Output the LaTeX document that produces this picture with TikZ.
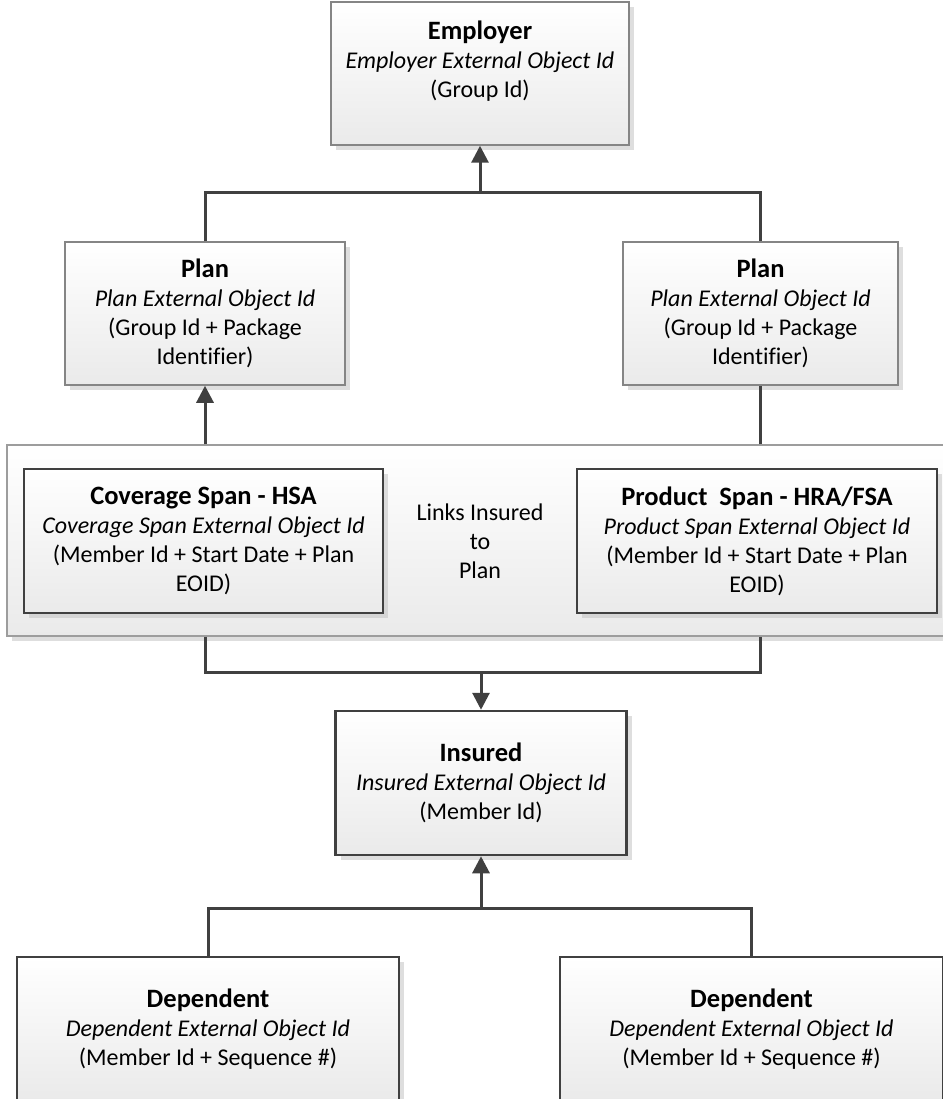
\documentclass[tikz,border=0pt]{standalone}
\usepackage{fontspec}
\setmainfont[Ligatures=NoCommon]{Carlito}
\usetikzlibrary{arrows.meta,shadows}
\definecolor{boxline}{HTML}{858585}
\definecolor{darkline}{HTML}{404040}
\definecolor{shadebot}{HTML}{EAEAEA}
\newcommand{\boxtitle}[1]{{\fontsize{26.5}{29}\selectfont\bfseries #1}}
\begin{document}
\begin{tikzpicture}[x=1pt,y=-1pt]
        \tikzset{entity/.style = {shape=rectangle,draw=boxline,line width=1.5pt,top color=white,bottom color=shadebot,align=center,inner sep=0pt,minimum height=143pt,font=\fontsize{24}{29}\selectfont,drop shadow={shadow xshift=5pt,shadow yshift=-5pt,fill=black!25,opacity=0.5}}}
        \tikzset{record/.style = {entity,draw=darkline,line width=2.5pt}}
        \tikzset{link/.style = {draw=darkline,line width=3pt}}
        \tikzset{arrow/.style = {link,-{Triangle[width=17pt,length=17pt]}}}
        \fill[white] (0,0) rectangle (942,1099);
        \useasboundingbox (0,0) rectangle (942,1099);
        % employer and plans
        \node[entity,minimum width=298pt,text depth=28pt] (employer) at (480,73.5) {\boxtitle{Employer}\\\textit{Employer External Object Id}\\(Group Id)};
        \node[entity,minimum width=280pt] (planL) at (205,313.5) {\boxtitle{Plan}\\\textit{Plan External Object Id}\\(Group Id + Package\\Identifier)};
        \node[entity,minimum width=275pt] (planR) at (760.5,313.5) {\boxtitle{Plan}\\\textit{Plan External Object Id}\\(Group Id + Package\\Identifier)};
        % spans inside the band
        \node[entity,draw=boxline!80,minimum width=943pt,minimum height=191pt] (spans) at (478.5,540.5) {};
        \node[record,minimum width=359pt,minimum height=144pt] (coverage) at (203.5,541) {\boxtitle{Coverage Span - HSA}\\\textit{Coverage Span External Object Id}\\(Member Id + Start Date + Plan\\EOID)};
        \node[record,minimum width=360pt,minimum height=144pt] (product) at (757,541) {\boxtitle{Product\ \ Span - HRA/FSA}\\\textit{Product Span External Object Id}\\(Member Id + Start Date + Plan\\EOID)};
        \node[align=center,font=\fontsize{24}{29}\selectfont] (note) at (480,541) {Links Insured\\to\\Plan};
        % insured and dependents
        \node[record,minimum width=291pt,minimum height=144pt] (insured) at (481,783) {\boxtitle{Insured}\\\textit{Insured External Object Id}\\(Member Id)};
        \node[record,minimum width=382pt,minimum height=144pt] (depL) at (208,1029) {\boxtitle{Dependent}\\\textit{Dependent External Object Id}\\(Member Id + Sequence \#)};
        \node[record,minimum width=383pt,minimum height=144pt] (depR) at (751.5,1029) {\boxtitle{Dependent}\\\textit{Dependent External Object Id}\\(Member Id + Sequence \#)};
        \coordinate (topjoin) at (480,193);
        \coordinate (midjoin) at (481,672);
        \coordinate (lowjoin) at (481,908);
        % plans up to employer
        \draw[link] (planL.north) |- (topjoin) -| (planR.north);
        \draw[arrow] (topjoin) -- (employer.south);
        % band up to plans
        \draw[arrow] (planL.south |- spans.north) -- (planL.south);
        \draw[link] (planR.south |- spans.north) -- (planR.south);
        % band down to insured
        \draw[link] (planL.south |- spans.south) |- (midjoin) -| (planR.south |- spans.south);
        \draw[arrow] (midjoin) -- (insured.north);
        % dependents up to insured
        \draw[link] (depL.north) |- (lowjoin) -| (depR.north);
        \draw[arrow] (lowjoin) -- (insured.south);
\end{tikzpicture}
\end{document}
